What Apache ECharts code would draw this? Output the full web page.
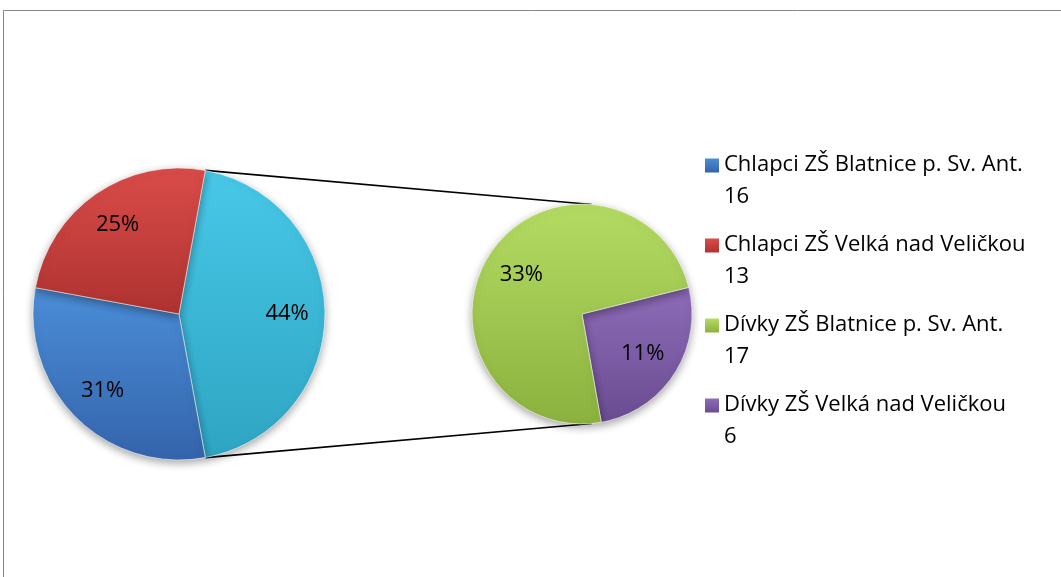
<!DOCTYPE html>
<html>
<head>
<meta charset="utf-8">
<title>Chlapci a dívky</title>
<script src="https://cdn.jsdelivr.net/npm/echarts@6/dist/echarts.min.js"></script>
<style>
  html, body { margin: 0; padding: 0; background: #fff; }
  #chart { width: 1061px; height: 577px; }
</style>
</head>
<body>
<div id="chart"></div>
<script>
// Pupils by school: boys stay in the main pie, girls are split out into the secondary pie.
const categories = [
  'Chlapci ZŠ Blatnice p. Sv. Ant.',
  'Chlapci ZŠ Velká nad Veličkou',
  'Dívky ZŠ Blatnice p. Sv. Ant.',
  'Dívky ZŠ Velká nad Veličkou'
];
const values = [16, 13, 17, 6];
const splitFrom = 2;          // categories from this index go to the secondary pie
const otherName = 'Ostatní';  // slice in the main pie that stands for the secondary pie

// Slice colours: [lighter top, darker bottom]
const sliceColors = {
  [categories[0]]: ['#4b8ed8', '#3464ab'],
  [categories[1]]: ['#da4c49', '#ae3230'],
  [categories[2]]: ['#b4dc63', '#8bb13e'],
  [categories[3]]: ['#8e6cb8', '#6a4c91'],
  [otherName]:     ['#48c8e8', '#2ea4c2']
};

const FONT = 'Open Sans, Liberation Sans, sans-serif';

// Layout of the two pies (pixels)
const main = { cx: 179, cy: 314, r: 146 };
const sub  = { cx: 582, cy: 314, r: 110 };
const subStartAngle = 14;

const total = values.reduce((a, b) => a + b, 0);
const otherValue = values.slice(splitFrom).reduce((a, b) => a + b, 0);

// Whole-number percentages of the total that add up to 100 (largest remainder)
function roundedPercents(vals) {
  const raw = vals.map(v => v / total * 100);
  const out = raw.map(Math.floor);
  const left = 100 - out.reduce((a, b) => a + b, 0);
  raw.map((v, i) => [v - Math.floor(v), i])
     .sort((a, b) => b[0] - a[0])
     .slice(0, left)
     .forEach(([, i]) => { out[i] += 1; });
  return out;
}
const pct = {};
roundedPercents(values).forEach((p, i) => { pct[categories[i]] = p; });
pct[otherName] = Math.round(otherValue / total * 100);

function grad(name, end) {
  const c = sliceColors[name];
  return {
    type: 'linear', x: 0, y: 0, x2: 0, y2: 1,
    colorStops: [{ offset: 0, color: c[0] }, { offset: end, color: c[1] }, { offset: 1, color: c[1] }]
  };
}

const mainItems = [
  { name: otherName, value: otherValue },
  { name: categories[0], value: values[0] },
  { name: categories[1], value: values[1] }
];
const subItems = [
  { name: categories[3], value: values[3] },
  { name: categories[2], value: values[2] }
];

// The "other" slice is centred on 3 o'clock, facing the secondary pie
const mainStartAngle = otherValue / total * 360 / 2;

const sliceStyle = {
  borderColor: 'rgba(255,255,255,0.55)',
  borderWidth: 1,
  shadowBlur: 8,
  shadowOffsetY: 3,
  shadowColor: 'rgba(0,0,0,0.35)'
};

function pieSeries(items, geo, startAngle) {
  return {
    type: 'pie',
    center: [geo.cx, geo.cy],
    radius: geo.r,
    startAngle: startAngle,
    clockwise: true,
    silent: true,
    label: { show: false },
    labelLine: { show: false },
    emphasis: { disabled: true },
    data: items.map(d => ({ name: d.name, value: d.value, itemStyle: Object.assign({ color: grad(d.name, 1) }, sliceStyle) }))
  };
}

// Transparent copies that only carry the percentage labels, placed further out than mid-radius
function labelSeries(items, geo, startAngle, labelFrac) {
  return {
    type: 'pie',
    center: [geo.cx, geo.cy],
    radius: geo.r * labelFrac * 2,
    startAngle: startAngle,
    clockwise: true,
    silent: true,
    z: 5,
    itemStyle: { color: 'rgba(0,0,0,0)' },
    label: {
      show: true,
      position: 'inside',
      color: '#000',
      fontFamily: FONT,
      fontSize: 22,
      formatter: p => pct[p.name] + '%'
    },
    labelLine: { show: false },
    emphasis: { disabled: true },
    data: items.map(d => ({ name: d.name, value: d.value }))
  };
}

// Connector lines: from the edges of the "other" slice, tangent to the secondary pie
function tangentPoint(px, py, c, upper) {
  const vx = px - c.cx, vy = py - c.cy;
  const d = Math.hypot(vx, vy);
  const a = Math.acos(c.r / d);
  const phi = Math.atan2(vy, vx);
  const t1 = [c.cx + c.r * Math.cos(phi + a), c.cy + c.r * Math.sin(phi + a)];
  const t2 = [c.cx + c.r * Math.cos(phi - a), c.cy + c.r * Math.sin(phi - a)];
  return upper ? (t1[1] < t2[1] ? t1 : t2) : (t1[1] > t2[1] ? t1 : t2);
}
const rad = mainStartAngle * Math.PI / 180;
const pTop = [main.cx + main.r * Math.cos(rad), main.cy - main.r * Math.sin(rad)];
const pBot = [main.cx + main.r * Math.cos(rad), main.cy + main.r * Math.sin(rad)];
const tTop = tangentPoint(pTop[0], pTop[1], sub, true);
const tBot = tangentPoint(pBot[0], pBot[1], sub, false);

// Legend marker: a 14px square at the top of a 45px tall box, so the square
// sits beside the first line of the two-line legend text
const ICON_W = 14, ICON_H = 45;
const legendIcon = 'path://M0,0L14,0L14,14L0,14Z M0,45L0.01,45';

const chart = echarts.init(document.getElementById('chart'), null, { renderer: 'canvas' });
chart.setOption({
  animation: false,
  backgroundColor: '#ffffff',
  legend: {
    data: categories.map(name => ({
      name: name,
      itemStyle: { color: grad(name, 14 / ICON_H) }
    })),
    orient: 'vertical',
    left: 700,
    top: 144,
    itemWidth: ICON_W,
    itemHeight: ICON_H,
    itemGap: 16,
    itemTextGap: 14,
    selectedMode: false,
    icon: legendIcon,
    itemStyle: { shadowBlur: 0, borderWidth: 0 },
    formatter: name => name + '\n' + values[categories.indexOf(name)],
    textStyle: {
      color: '#000',
      fontFamily: FONT,
      fontSize: 22,
      lineHeight: 32
    }
  },
  graphic: [
    {
      type: 'rect',
      shape: { x: 3.5, y: 10.5, width: 1100, height: 700 },
      style: { fill: 'none', stroke: '#868686', lineWidth: 1 },
      silent: true
    },
    {
      type: 'line',
      shape: { x1: pTop[0], y1: pTop[1], x2: tTop[0], y2: tTop[1] },
      style: { stroke: '#000', lineWidth: 1.6 },
      z: 0, silent: true
    },
    {
      type: 'line',
      shape: { x1: pBot[0], y1: pBot[1], x2: tBot[0], y2: tBot[1] },
      style: { stroke: '#000', lineWidth: 1.6 },
      z: 0, silent: true
    }
  ],
  series: [
    pieSeries(mainItems, main, mainStartAngle),
    pieSeries(subItems, sub, subStartAngle),
    labelSeries(mainItems, main, mainStartAngle, 0.72),
    labelSeries(subItems, sub, subStartAngle, 0.63)
  ]
});
</script>
</body>
</html>
